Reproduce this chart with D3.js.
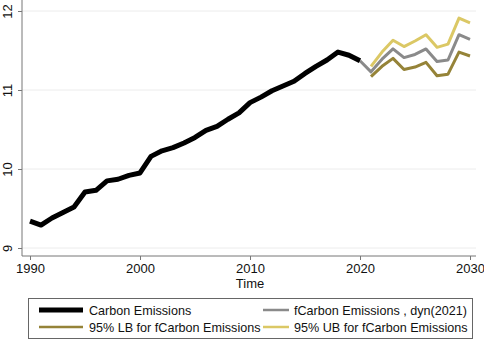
<!DOCTYPE html>
<html>
<head>
<meta charset="utf-8">
<script src="https://cdn.jsdelivr.net/npm/d3@7"></script>
<style>
  body { margin: 0; background: #fff; }
  text { font-family: "Liberation Sans", Arial, sans-serif; fill: #111; }
</style>
</head>
<body>
<div id="chart-area"></div>
<script>
// data
const histYears = d3.range(1990, 2021);
const carbon = [9.34, 9.29, 9.38, 9.45, 9.52, 9.71, 9.73, 9.85, 9.87, 9.92,
  9.95, 10.16, 10.23, 10.27, 10.33, 10.40, 10.49, 10.54, 10.63, 10.71,
  10.84, 10.91, 10.99, 11.05, 11.11, 11.21, 11.30, 11.38, 11.48, 11.44, 11.37];
const fcYears = d3.range(2020, 2031);
const fcast = [11.37, 11.23, 11.39, 11.52, 11.41, 11.45, 11.52, 11.36, 11.38, 11.70, 11.64];
const bandYears = d3.range(2021, 2031);
const lower = [11.17, 11.30, 11.40, 11.26, 11.29, 11.35, 11.18, 11.20, 11.48, 11.43];
const upper = [11.30, 11.48, 11.63, 11.55, 11.62, 11.70, 11.54, 11.58, 11.91, 11.85];
const xTicks = [1990, 2000, 2010, 2020, 2030];
const yTicks = [9, 10, 11, 12];

const W = 484, H = 341;
const margin = { left: 22, right: 8, top: 0, bottom: 85 };

const svg = d3.select('#chart-area')
  .append('svg')
  .attr('width', W)
  .attr('height', H);

// scales (1990 -> 30px, 2030 -> 470px, 12 -> 11px, 9 -> 248px)
const x = d3.scaleLinear().domain([1990, 2030]).range([30, 470]);
const y = d3.scaleLinear().domain([9, 12]).range([248, 11]);

const plotLeft = margin.left, plotRight = W - margin.right, plotBottom = H - margin.bottom;

// gridlines
svg.append('g')
  .selectAll('line')
  .data(yTicks)
  .enter()
  .append('line')
  .attr('x1', plotLeft)
  .attr('x2', plotRight)
  .attr('y1', d => y(d))
  .attr('y2', d => y(d))
  .attr('stroke', '#ececec')
  .attr('stroke-width', 1);

// y axis
const yAxis = svg.append('g')
  .attr('transform', 'translate(' + plotLeft + ',0)')
  .call(d3.axisLeft(y).tickValues(yTicks).tickFormat(d3.format('d')).tickSize(4).tickPadding(3));
yAxis.select('.domain').attr('d', 'M0,0V' + plotBottom).attr('stroke', '#777');
yAxis.selectAll('.tick line').attr('stroke', '#777');
yAxis.selectAll('.tick text')
  .attr('font-size', 13)
  .attr('text-anchor', 'middle')
  .attr('transform', 'rotate(-90)')
  .attr('x', 0)
  .attr('y', -10)
  .attr('dy', '0');

// x axis
const xAxis = svg.append('g')
  .attr('transform', 'translate(0,' + plotBottom + ')')
  .call(d3.axisBottom(x).tickValues(xTicks).tickFormat(d3.format('d')).tickSize(4).tickPadding(4));
xAxis.select('.domain').attr('d', 'M' + plotLeft + ',0H' + plotRight).attr('stroke', '#777');
xAxis.selectAll('.tick line').attr('stroke', '#777');
xAxis.selectAll('.tick text').attr('font-size', 13);

svg.append('text')
  .attr('x', x(2010))
  .attr('y', 288)
  .attr('text-anchor', 'middle')
  .attr('font-size', 13)
  .text('Time');

// lines
const line = d3.line()
  .x(d => x(d[0]))
  .y(d => y(d[1]));

const series = [
  { years: fcYears, vals: fcast, color: '#8a8a8a', width: 3 },
  { years: bandYears, vals: lower, color: '#958338', width: 3 },
  { years: bandYears, vals: upper, color: '#dbc865', width: 3 },
  { years: histYears, vals: carbon, color: '#000', width: 5 }
];

svg.selectAll('path.series')
  .data(series)
  .enter()
  .append('path')
  .attr('class', 'series')
  .attr('fill', 'none')
  .attr('stroke', d => d.color)
  .attr('stroke-width', d => d.width)
  .attr('stroke-linejoin', 'round')
  .attr('d', d => line(d.years.map((yr, i) => [yr, d.vals[i]])));

// legend
const legend = svg.append('g');
legend.append('rect')
  .attr('x', 28.5)
  .attr('y', 298.5)
  .attr('width', 444)
  .attr('height', 40)
  .attr('fill', '#fff')
  .attr('stroke', '#666')
  .attr('stroke-width', 1);

const legendItems = [
  { label: 'Carbon Emissions', color: '#000', width: 5, x1: 39, x2: 83, tx: 89, y: 310 },
  { label: 'fCarbon Emissions , dyn(2021)', color: '#8a8a8a', width: 2.5, x1: 263, x2: 289, tx: 294, y: 310 },
  { label: '95% LB for fCarbon Emissions', color: '#958338', width: 2.5, x1: 39, x2: 83, tx: 89, y: 327 },
  { label: '95% UB for fCarbon Emissions', color: '#dbc865', width: 2.5, x1: 263, x2: 289, tx: 294, y: 327 }
];

const items = legend.selectAll('g.item')
  .data(legendItems)
  .enter()
  .append('g')
  .attr('class', 'item');
items.append('line')
  .attr('x1', d => d.x1)
  .attr('x2', d => d.x2)
  .attr('y1', d => d.y)
  .attr('y2', d => d.y)
  .attr('stroke', d => d.color)
  .attr('stroke-width', d => d.width);
items.append('text')
  .attr('x', d => d.tx)
  .attr('y', d => d.y + 4.5)
  .attr('font-size', 12.6)
  .text(d => d.label);
</script>
</body>
</html>
